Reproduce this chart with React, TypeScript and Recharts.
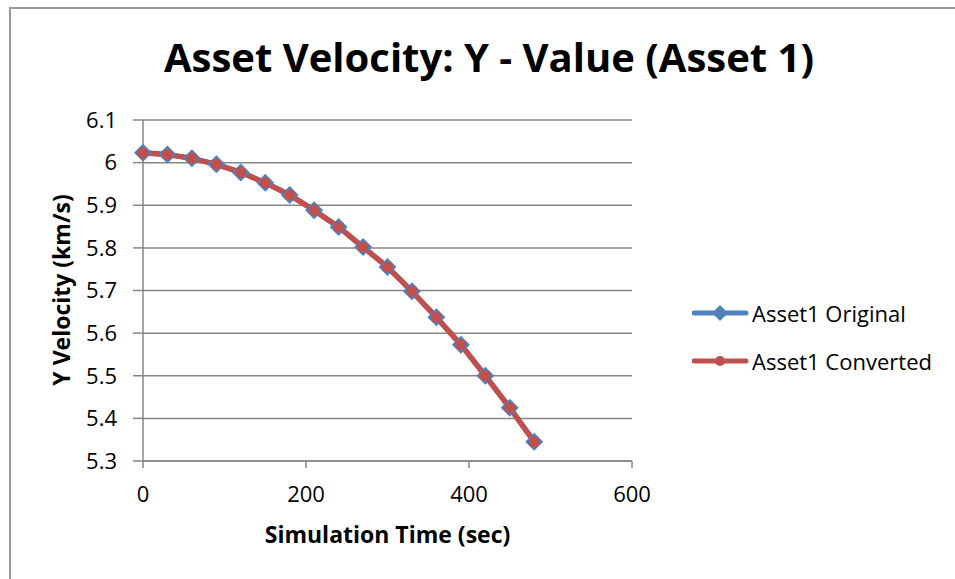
import { LineChart, Line, XAxis, YAxis, CartesianGrid, Legend } from "recharts";

const FONT = "'Open Sans', Lato, sans-serif";
const BLUE = "#4F81BD";
const RED = "#C0504D";
const GRID = "#868686";

// simulation time in seconds
const times = [0, 30, 60, 90, 120, 150, 180, 210, 240, 270, 300, 330, 360, 390, 420, 450, 480];
// y velocity (km/s)
const asset1Original = [6.023, 6.019, 6.01, 5.996, 5.977, 5.953, 5.924, 5.888, 5.849, 5.802, 5.755, 5.698, 5.637, 5.573, 5.5, 5.425, 5.345];
const asset1Converted = [6.023, 6.019, 6.01, 5.996, 5.977, 5.953, 5.924, 5.888, 5.849, 5.802, 5.755, 5.698, 5.637, 5.573, 5.5, 5.425, 5.345];
const seriesNames = ["Asset1 Original", "Asset1 Converted"];
const xTicks = [0, 200, 400, 600];
const yTicks = [5.3, 5.4, 5.5, 5.6, 5.7, 5.8, 5.9, 6, 6.1];

const data = times.map((t, i) => ({ t, original: asset1Original[i], converted: asset1Converted[i] }));

const Diamond = (props: any) => {
  const { cx, cy, index } = props;
  if (cx == null || cy == null) return <g key={index} />;
  const r = 9;
  return <path key={index} d={`M${cx},${cy - r}L${cx + r},${cy}L${cx},${cy + r}L${cx - r},${cy}Z`} fill={BLUE} />;
};

const LegendBox = () => (
  <div style={{ fontFamily: FONT, fontSize: 22, color: "#000" }}>
    {seriesNames.map((name, i) => (
      <div key={name} style={{ display: "flex", alignItems: "center", height: 24, marginBottom: i === 0 ? 24 : 0 }}>
        <svg width={60} height={20}>
          <line x1={2} y1={10} x2={54} y2={10} stroke={i === 0 ? BLUE : RED} strokeWidth={5} strokeLinecap="round" />
          {i === 0 ? (
            <path d="M28,2L36,10L28,18L20,10Z" fill={BLUE} />
          ) : (
            <circle cx={28} cy={10} r={5} fill={RED} />
          )}
        </svg>
        <span style={{ lineHeight: "24px" }}>{name}</span>
      </div>
    ))}
  </div>
);

const fmtY = (v: number) => String(+v.toFixed(1));

export default function App() {
  return (
    <div style={{ position: "absolute", left: 0, top: 0, width: 955, height: 579, background: "#fff", fontFamily: FONT, overflow: "hidden" }}>
      <div style={{ position: "absolute", left: 9, top: 7, width: 960, height: 590, border: "2px solid #9a9a9a", boxSizing: "border-box" }} />
      <div style={{ position: "absolute", left: 0, width: 978, top: 37, textAlign: "center", fontSize: 40, lineHeight: "40px", fontWeight: 700, color: "#000", whiteSpace: "nowrap" }}>
        Asset Velocity: Y - Value (Asset 1)
      </div>
      <div
        style={{
          position: "absolute", left: 61, top: 290, transform: "translate(-50%, -50%) rotate(-90deg)",
          fontSize: 23, lineHeight: "23px", fontWeight: 700, whiteSpace: "nowrap", color: "#000",
        }}
      >
        Y Velocity (km/s)
      </div>
      <div style={{ position: "absolute", left: 143, width: 489, top: 523, textAlign: "center", fontSize: 23, lineHeight: "23px", fontWeight: 700, color: "#000", whiteSpace: "nowrap" }}>
        Simulation Time (sec)
      </div>
      <LineChart width={955} height={579} data={data} margin={{ top: 120, right: 323, bottom: 88, left: 0 }}>
        <CartesianGrid vertical={false} stroke={GRID} strokeWidth={1.5} />
        <XAxis
          dataKey="t" type="number" domain={[0, 600]} ticks={xTicks}
          stroke={GRID} strokeWidth={1.5} tickSize={7} tickMargin={18} height={30}
          tick={{ fill: "#000", fontSize: 22, fontFamily: FONT }}
        />
        <YAxis
          type="number" domain={[5.3, 6.1]} ticks={yTicks} tickFormatter={fmtY}
          stroke={GRID} strokeWidth={1.5} tickSize={10} tickMargin={16} width={143}
          tick={{ fill: "#000", fontSize: 22, fontFamily: FONT }}
        />
        <Legend layout="horizontal" align="center" verticalAlign="middle" content={<LegendBox />} wrapperStyle={{ left: 692, top: 301, width: 263 }} />
        <Line dataKey="original" name={seriesNames[0]} stroke={BLUE} strokeWidth={5} dot={<Diamond />} isAnimationActive={false} />
        <Line
          dataKey="converted" name={seriesNames[1]} stroke={RED} strokeWidth={5.5}
          dot={{ r: 5.5, fill: RED, stroke: RED, strokeWidth: 0 }} isAnimationActive={false}
        />
      </LineChart>
    </div>
  );
}
